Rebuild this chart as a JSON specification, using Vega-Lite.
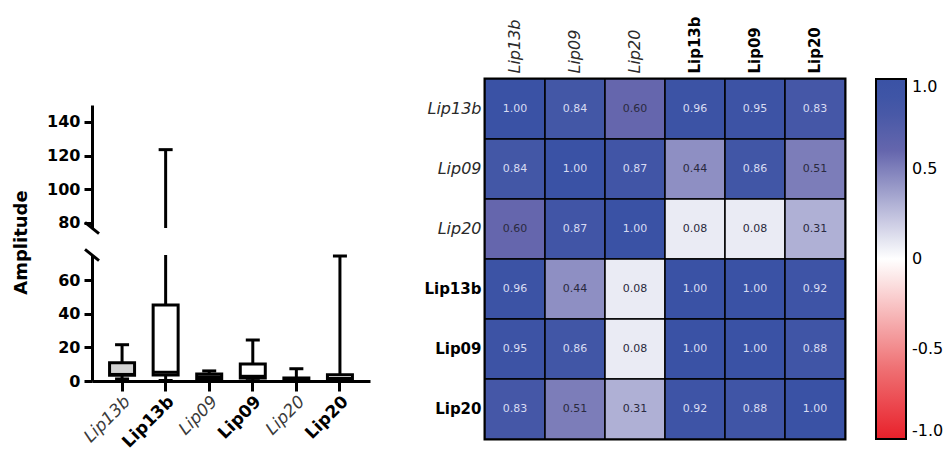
{
  "$schema": "https://vega.github.io/schema/vega-lite/v6.json",
  "background": "white",
  "padding": {"left": 12, "top": 14, "right": 0, "bottom": 0},
  "config": {
    "font": "DejaVu Sans",
    "view": {"stroke": null},
    "axis": {"grid": false}
  },
  "datasets": {
    "amplitude": [
      {"id": "Lip13b|1", "min": 1.2, "q1": 3.4, "median": 3.9, "q3": 10.9, "max": 21.6},
      {"id": "Lip13b|2", "min": 0.3, "q1": 3.5, "median": 5.2, "q3": 45.2, "max": 123.5},
      {"id": "Lip09|1", "min": 0.3, "q1": 1.2, "median": 2.5, "q3": 4.2, "max": 6.0},
      {"id": "Lip09|2", "min": 0.2, "q1": 1.8, "median": 2.8, "q3": 10.1, "max": 24.4},
      {"id": "Lip20|1", "min": 0.0, "q1": 0.3, "median": 0.9, "q3": 1.8, "max": 7.3},
      {"id": "Lip20|2", "min": 0.0, "q1": 0.3, "median": 1.5, "q3": 3.7, "max": 74.4}
    ],
    "correlation": [
      {"row": "Lip13b|1", "col": "Lip13b|1", "v": 1.00},
      {"row": "Lip13b|1", "col": "Lip09|1", "v": 0.84},
      {"row": "Lip13b|1", "col": "Lip20|1", "v": 0.60},
      {"row": "Lip13b|1", "col": "Lip13b|2", "v": 0.96},
      {"row": "Lip13b|1", "col": "Lip09|2", "v": 0.95},
      {"row": "Lip13b|1", "col": "Lip20|2", "v": 0.83},
      {"row": "Lip09|1", "col": "Lip13b|1", "v": 0.84},
      {"row": "Lip09|1", "col": "Lip09|1", "v": 1.00},
      {"row": "Lip09|1", "col": "Lip20|1", "v": 0.87},
      {"row": "Lip09|1", "col": "Lip13b|2", "v": 0.44},
      {"row": "Lip09|1", "col": "Lip09|2", "v": 0.86},
      {"row": "Lip09|1", "col": "Lip20|2", "v": 0.51},
      {"row": "Lip20|1", "col": "Lip13b|1", "v": 0.60},
      {"row": "Lip20|1", "col": "Lip09|1", "v": 0.87},
      {"row": "Lip20|1", "col": "Lip20|1", "v": 1.00},
      {"row": "Lip20|1", "col": "Lip13b|2", "v": 0.08},
      {"row": "Lip20|1", "col": "Lip09|2", "v": 0.08},
      {"row": "Lip20|1", "col": "Lip20|2", "v": 0.31},
      {"row": "Lip13b|2", "col": "Lip13b|1", "v": 0.96},
      {"row": "Lip13b|2", "col": "Lip09|1", "v": 0.44},
      {"row": "Lip13b|2", "col": "Lip20|1", "v": 0.08},
      {"row": "Lip13b|2", "col": "Lip13b|2", "v": 1.00},
      {"row": "Lip13b|2", "col": "Lip09|2", "v": 1.00},
      {"row": "Lip13b|2", "col": "Lip20|2", "v": 0.92},
      {"row": "Lip09|2", "col": "Lip13b|1", "v": 0.95},
      {"row": "Lip09|2", "col": "Lip09|1", "v": 0.86},
      {"row": "Lip09|2", "col": "Lip20|1", "v": 0.08},
      {"row": "Lip09|2", "col": "Lip13b|2", "v": 1.00},
      {"row": "Lip09|2", "col": "Lip09|2", "v": 1.00},
      {"row": "Lip09|2", "col": "Lip20|2", "v": 0.88},
      {"row": "Lip20|2", "col": "Lip13b|1", "v": 0.83},
      {"row": "Lip20|2", "col": "Lip09|1", "v": 0.51},
      {"row": "Lip20|2", "col": "Lip20|1", "v": 0.31},
      {"row": "Lip20|2", "col": "Lip13b|2", "v": 0.92},
      {"row": "Lip20|2", "col": "Lip09|2", "v": 0.88},
      {"row": "Lip20|2", "col": "Lip20|2", "v": 1.00}
    ]
  },
  "spacing": 52,
  "hconcat": [
    {
      "spacing": 27,
      "bounds": "flush",
      "resolve": {"scale": {"x": "independent", "y": "independent"}},
      "vconcat": [
        {
          "width": 278,
          "height": 149,
          "resolve": {"scale": {"x": "independent"}},
          "layer": [
            {
              "data": {"name": "amplitude"},
              "transform": [{"filter": "datum.max > 77"}],
              "encoding": {
                "x": {"field": "id", "type": "nominal", "sort": ["Lip13b|1", "Lip13b|2", "Lip09|1", "Lip09|2", "Lip20|1", "Lip20|2"], "scale": {"domain": ["Lip13b|1", "Lip13b|2", "Lip09|1", "Lip09|2", "Lip20|1", "Lip20|2"], "paddingInner": 0, "paddingOuter": 0.19}, "axis": null}
              },
              "layer": [
                {
                  "mark": {"type": "rule", "strokeWidth": 3, "color": "black"},
                  "encoding": {
                    "y": {"field": "q3", "type": "quantitative", "scale": {"domain": [77, 150], "range": [149, 26], "nice": false, "zero": false, "clamp": true},
                      "axis": {"title": null, "values": [80, 100, 120, 140], "domainWidth": 3, "domainColor": "black", "tickWidth": 3, "tickSize": 8, "tickColor": "black", "labelFontWeight": "bold", "labelFontSize": 16, "labelColor": "black", "labelPadding": 4}},
                    "y2": {"field": "max"}
                  }
                },
                {
                  "mark": {"type": "tick", "orient": "horizontal", "size": 14, "thickness": 3, "color": "black", "opacity": 1},
                  "encoding": {
                    "y": {"field": "max", "type": "quantitative",
                      "axis": {"title": null, "values": [80, 100, 120, 140], "domainWidth": 3, "domainColor": "black", "tickWidth": 3, "tickSize": 8, "tickColor": "black", "labelFontWeight": "bold", "labelFontSize": 16, "labelColor": "black", "labelPadding": 4}}
                  }
                }
              ]
            },
            {
              "data": {"values": [{"axis_break": "upper"}]},
              "mark": {"type": "point", "shape": "M-1,-0.8L1,0.8", "size": 196, "strokeWidth": 3, "color": "black", "filled": false, "opacity": 1},
              "encoding": {
                "x": {"datum": 0, "type": "quantitative", "scale": {"domain": [0, 1]}, "axis": null},
                "y": {"datum": 73, "type": "quantitative",
                  "axis": {"title": null, "values": [80, 100, 120, 140], "domainWidth": 3, "domainColor": "black", "tickWidth": 3, "tickSize": 8, "tickColor": "black", "labelFontWeight": "bold", "labelFontSize": 16, "labelColor": "black", "labelPadding": 4}}
              }
            }
          ]
        },
        {
          "width": 278,
          "height": 126,
          "resolve": {"scale": {"x": "independent"}},
          "layer": [
            {
              "data": {"name": "amplitude"},
              "encoding": {
                "x": {"field": "id", "type": "nominal", "sort": ["Lip13b|1", "Lip13b|2", "Lip09|1", "Lip09|2", "Lip20|1", "Lip20|2"], "scale": {"paddingInner": 0, "paddingOuter": 0.19},
                  "axis": {
                    "title": null, "labelAngle": -45, "labelFontSize": 17, "labelPadding": 2,
                    "labelExpr": "split(datum.label, '|')[0]",
                    "labelFontStyle": {"condition": {"test": "indexof(datum.value, '|1') >= 0", "value": "italic"}, "value": "normal"},
                    "labelFontWeight": {"condition": {"test": "indexof(datum.value, '|1') >= 0", "value": "normal"}, "value": "bold"},
                    "labelColor": {"condition": {"test": "indexof(datum.value, '|1') >= 0", "value": "#3a3a3a"}, "value": "black"},
                    "domainWidth": 3, "domainColor": "black", "tickWidth": 3, "tickSize": 10, "tickColor": "black"
                  }
                }
              },
              "layer": [
                {
                  "mark": {"type": "rule", "strokeWidth": 3, "color": "black"},
                  "encoding": {
                    "y": {"field": "q3", "type": "quantitative", "scale": {"domain": [0, 75], "nice": false, "clamp": true},
                      "axis": {"title": "Amplitude", "titleFontSize": 18, "titleFontWeight": "bold", "titleColor": "black", "titlePadding": 27, "titleY": -13, "values": [0, 20, 40, 60], "domainWidth": 3, "domainColor": "black", "tickWidth": 3, "tickSize": 8, "tickColor": "black", "labelFontWeight": "bold", "labelFontSize": 16, "labelColor": "black", "labelPadding": 4}},
                    "y2": {"field": "max"}
                  }
                },
                {
                  "mark": {"type": "rule", "strokeWidth": 3, "color": "black"},
                  "encoding": {
                    "y": {"field": "min", "type": "quantitative",
                      "axis": {"title": "Amplitude", "titleFontSize": 18, "titleFontWeight": "bold", "titleColor": "black", "titlePadding": 27, "titleY": -13, "values": [0, 20, 40, 60], "domainWidth": 3, "domainColor": "black", "tickWidth": 3, "tickSize": 8, "tickColor": "black", "labelFontWeight": "bold", "labelFontSize": 16, "labelColor": "black", "labelPadding": 4}},
                    "y2": {"field": "q1"}
                  }
                },
                {
                  "mark": {"type": "bar", "size": 25, "stroke": "black", "strokeWidth": 3},
                  "encoding": {
                    "y": {"field": "q1", "type": "quantitative",
                      "axis": {"title": "Amplitude", "titleFontSize": 18, "titleFontWeight": "bold", "titleColor": "black", "titlePadding": 27, "titleY": -13, "values": [0, 20, 40, 60], "domainWidth": 3, "domainColor": "black", "tickWidth": 3, "tickSize": 8, "tickColor": "black", "labelFontWeight": "bold", "labelFontSize": 16, "labelColor": "black", "labelPadding": 4}},
                    "y2": {"field": "q3"},
                    "fill": {"condition": {"test": "datum.id === 'Lip13b|1'", "value": "#d3d3d3"}, "value": "white"}
                  }
                },
                {
                  "mark": {"type": "tick", "orient": "horizontal", "size": 25, "thickness": 3, "color": "black", "opacity": 1},
                  "encoding": {
                    "y": {"field": "median", "type": "quantitative",
                      "axis": {"title": "Amplitude", "titleFontSize": 18, "titleFontWeight": "bold", "titleColor": "black", "titlePadding": 27, "titleY": -13, "values": [0, 20, 40, 60], "domainWidth": 3, "domainColor": "black", "tickWidth": 3, "tickSize": 8, "tickColor": "black", "labelFontWeight": "bold", "labelFontSize": 16, "labelColor": "black", "labelPadding": 4}}
                  }
                },
                {
                  "transform": [{"filter": "datum.max <= 75"}],
                  "mark": {"type": "tick", "orient": "horizontal", "size": 14, "thickness": 3, "color": "black", "opacity": 1},
                  "encoding": {
                    "y": {"field": "max", "type": "quantitative",
                      "axis": {"title": "Amplitude", "titleFontSize": 18, "titleFontWeight": "bold", "titleColor": "black", "titlePadding": 27, "titleY": -13, "values": [0, 20, 40, 60], "domainWidth": 3, "domainColor": "black", "tickWidth": 3, "tickSize": 8, "tickColor": "black", "labelFontWeight": "bold", "labelFontSize": 16, "labelColor": "black", "labelPadding": 4}}
                  }
                },
                {
                  "mark": {"type": "tick", "orient": "horizontal", "size": 14, "thickness": 3, "color": "black", "opacity": 1},
                  "encoding": {
                    "y": {"field": "min", "type": "quantitative",
                      "axis": {"title": "Amplitude", "titleFontSize": 18, "titleFontWeight": "bold", "titleColor": "black", "titlePadding": 27, "titleY": -13, "values": [0, 20, 40, 60], "domainWidth": 3, "domainColor": "black", "tickWidth": 3, "tickSize": 8, "tickColor": "black", "labelFontWeight": "bold", "labelFontSize": 16, "labelColor": "black", "labelPadding": 4}}
                  }
                }
              ]
            },
            {
              "data": {"values": [{"axis_break": "lower"}]},
              "mark": {"type": "point", "shape": "M-1,-0.8L1,0.8", "size": 196, "strokeWidth": 3, "color": "black", "filled": false, "opacity": 1},
              "encoding": {
                "x": {"datum": 0, "type": "quantitative", "scale": {"domain": [0, 1]}, "axis": null},
                "y": {"datum": 76.2, "type": "quantitative",
                  "axis": {"title": "Amplitude", "titleFontSize": 18, "titleFontWeight": "bold", "titleColor": "black", "titlePadding": 27, "titleY": -13, "values": [0, 20, 40, 60], "domainWidth": 3, "domainColor": "black", "tickWidth": 3, "tickSize": 8, "tickColor": "black", "labelFontWeight": "bold", "labelFontSize": 16, "labelColor": "black", "labelPadding": 4}}
              }
            }
          ]
        }
      ]
    },
    {
      "width": 360,
      "height": 360,
      "data": {"name": "correlation"},
      "view": {"stroke": "black", "strokeWidth": 3},
      "encoding": {
        "x": {"field": "col", "type": "nominal", "sort": ["Lip13b|1", "Lip09|1", "Lip20|1", "Lip13b|2", "Lip09|2", "Lip20|2"], "scale": {"paddingInner": 0, "paddingOuter": 0},
          "axis": {
            "orient": "top", "title": null, "labelAngle": -90, "ticks": false, "domain": false, "labelPadding": 6,
            "labelExpr": "split(datum.label, '|')[0]",
            "labelFontSize": {"condition": {"test": "indexof(datum.value, '|1') >= 0", "value": 16}, "value": 15},
            "labelFontStyle": {"condition": {"test": "indexof(datum.value, '|1') >= 0", "value": "italic"}, "value": "normal"},
            "labelFontWeight": {"condition": {"test": "indexof(datum.value, '|1') >= 0", "value": "normal"}, "value": "bold"},
            "labelColor": {"condition": {"test": "indexof(datum.value, '|1') >= 0", "value": "#2a2a2a"}, "value": "black"}
          }
        },
        "y": {"field": "row", "type": "nominal", "sort": ["Lip13b|1", "Lip09|1", "Lip20|1", "Lip13b|2", "Lip09|2", "Lip20|2"], "scale": {"paddingInner": 0, "paddingOuter": 0},
          "axis": {
            "title": null, "ticks": false, "domain": false, "labelPadding": 4,
            "labelExpr": "split(datum.label, '|')[0]",
            "labelFontSize": {"condition": {"test": "indexof(datum.value, '|1') >= 0", "value": 16}, "value": 15},
            "labelFontStyle": {"condition": {"test": "indexof(datum.value, '|1') >= 0", "value": "italic"}, "value": "normal"},
            "labelFontWeight": {"condition": {"test": "indexof(datum.value, '|1') >= 0", "value": "normal"}, "value": "bold"},
            "labelColor": {"condition": {"test": "indexof(datum.value, '|1') >= 0", "value": "#2a2a2a"}, "value": "black"}
          }
        }
      },
      "layer": [
        {
          "mark": {"type": "rect", "stroke": "black", "strokeWidth": 1.5},
          "encoding": {
            "color": {
              "field": "v", "type": "quantitative",
              "scale": {"domain": [-1, -0.6, 0, 0.6, 0.85, 1], "range": ["#e8202a", "#ef7275", "#ffffff", "#6566ad", "#4256a6", "#3a52a5"], "interpolate": "rgb"},
              "legend": {
                "title": null, "orient": "right", "offset": 28, "padding": 0, "direction": "vertical",
                "gradientLength": 360, "gradientThickness": 30, "gradientStrokeColor": "black", "gradientStrokeWidth": 2,
                "values": [1, 0.5, 0, -0.5, -1],
                "labelExpr": "datum.value == 0 ? '0' : (datum.value < 0 ? '-' : '') + format(abs(datum.value), '.1f')",
                "labelFontSize": 16, "labelOffset": 6, "labelBaseline": "middle", "labelColor": "black", "labelOverlap": false
              }
            }
          }
        },
        {
          "mark": {"type": "text", "fontSize": 11},
          "encoding": {
            "text": {"field": "v", "type": "quantitative", "format": ".2f"},
            "color": {"condition": {"test": "datum.v < 0.7", "value": "#2a2a40"}, "value": "#d8dcf2"}
          }
        }
      ]
    }
  ]
}
